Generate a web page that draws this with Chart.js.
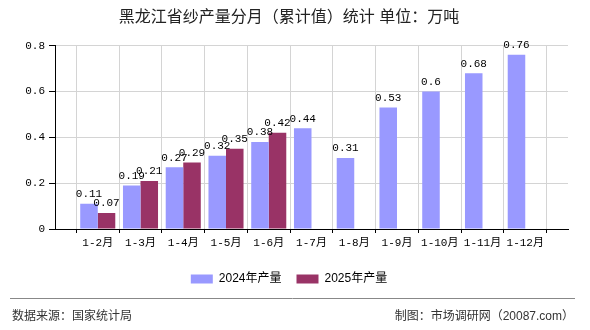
<!DOCTYPE html>
<html lang="zh">
<head>
    <meta charset="UTF-8">
    <title>黑龙江省纱产量分月（累计值）统计</title>
    <script src="https://cdn.jsdelivr.net/npm/chart.js"></script>
    <style>
        body {
            margin: 0;
            background: #ffffff;
        }
        #wrap {
            width: 590px;
            height: 330px;
        }
    </style>
</head>
<body>
    <div id="wrap">
        <canvas id="yarnChart" width="590" height="330"></canvas>
    </div>

    <script>
        // 累计产量（万吨）
        const months = ['1-2月', '1-3月', '1-4月', '1-5月', '1-6月', '1-7月', '1-8月', '1-9月', '1-10月', '1-11月', '1-12月'];
        const output2024 = [0.11, 0.19, 0.27, 0.32, 0.38, 0.44, 0.31, 0.53, 0.6, 0.68, 0.76];
        const output2025 = [0.07, 0.21, 0.29, 0.35, 0.42];
        const yTicks = [0, 0.2, 0.4, 0.6, 0.8];

        const numFont = "'Liberation Mono', 'Noto Sans CJK SC', monospace";
        const cjkFont = "'Liberation Sans', 'Noto Sans CJK SC', sans-serif";

        // empty slot at each end so the bars sit one step in from the axes
        const labels = [''].concat(months, ['']);
        const pad = arr => {
            const out = [null].concat(arr);
            while (out.length < labels.length) out.push(null);
            return out;
        };

        // value above every bar
        const barValues = {
            id: 'barValues',
            afterDatasetsDraw(chart) {
                const ctx = chart.ctx;
                ctx.save();
                ctx.font = '11px ' + numFont;
                ctx.fillStyle = '#000';
                ctx.textAlign = 'center';
                ctx.textBaseline = 'bottom';
                chart.data.datasets.forEach((ds, i) => {
                    chart.getDatasetMeta(i).data.forEach((bar, j) => {
                        const v = ds.data[j];
                        if (v === null || v === undefined) return;
                        ctx.fillText(String(v), bar.x, bar.y - 4);
                    });
                });
                ctx.restore();
            }
        };

        // source line at the bottom
        const footer = {
            id: 'footer',
            afterDraw(chart) {
                const ctx = chart.ctx;
                ctx.save();
                ctx.strokeStyle = '#888';
                ctx.lineWidth = 1;
                ctx.beginPath();
                ctx.moveTo(10, 298.5);
                ctx.lineTo(575, 298.5);
                ctx.stroke();
                ctx.font = '12px ' + cjkFont;
                ctx.fillStyle = '#333';
                ctx.textBaseline = 'middle';
                ctx.textAlign = 'left';
                ctx.fillText('数据来源：国家统计局', 12, 317);
                ctx.textAlign = 'right';
                ctx.fillText('制图：市场调研网（20087.com）', 574, 317);
                ctx.restore();
            }
        };

        new Chart(document.getElementById('yarnChart'), {
            type: 'bar',
            data: {
                labels: labels,
                datasets: [
                    {
                        label: '2024年产量',
                        data: pad(output2024),
                        backgroundColor: '#9999ff'
                    },
                    {
                        label: '2025年产量',
                        data: pad(output2025),
                        backgroundColor: '#993366'
                    }
                ]
            },
            options: {
                responsive: false,
                animation: false,
                categoryPercentage: 0.82,
                barPercentage: 1,
                layout: {
                    padding: { left: 10, right: 22, top: 0, bottom: 35 }
                },
                plugins: {
                    title: {
                        display: true,
                        text: '黑龙江省纱产量分月（累计值）统计 单位：万吨',
                        color: '#222',
                        font: { family: cjkFont, size: 16, weight: 'normal' },
                        padding: { top: 8, bottom: 18.5 }
                    },
                    legend: {
                        position: 'bottom',
                        labels: {
                            boxWidth: 22,
                            boxHeight: 9,
                            padding: 15,
                            color: '#000',
                            font: { family: cjkFont, size: 12 }
                        }
                    },
                    tooltip: { enabled: false }
                },
                scales: {
                    x: {
                        offset: false,
                        afterFit(scale) { scale.height = 29; },
                        grid: {
                            color: '#d4d4d4',
                            tickColor: '#000',
                            tickLength: 4
                        },
                        border: { color: '#000', width: 1 },
                        ticks: {
                            padding: 3,
                            maxRotation: 0,
                            autoSkip: false,
                            color: '#000',
                            font: { family: numFont, size: 11 }
                        }
                    },
                    y: {
                        min: 0,
                        max: 0.8,
                        afterFit(scale) { scale.width = 45; },
                        afterBuildTicks(scale) {
                            scale.ticks = yTicks.map(v => ({ value: v }));
                        },
                        grid: {
                            color: '#d4d4d4',
                            tickColor: '#000',
                            tickLength: 6
                        },
                        border: { color: '#000', width: 1 },
                        ticks: {
                            padding: 4,
                            color: '#000',
                            font: { family: numFont, size: 11 },
                            callback: v => String(v)
                        }
                    }
                }
            },
            plugins: [barValues, footer]
        });
    </script>
</body>
</html>
